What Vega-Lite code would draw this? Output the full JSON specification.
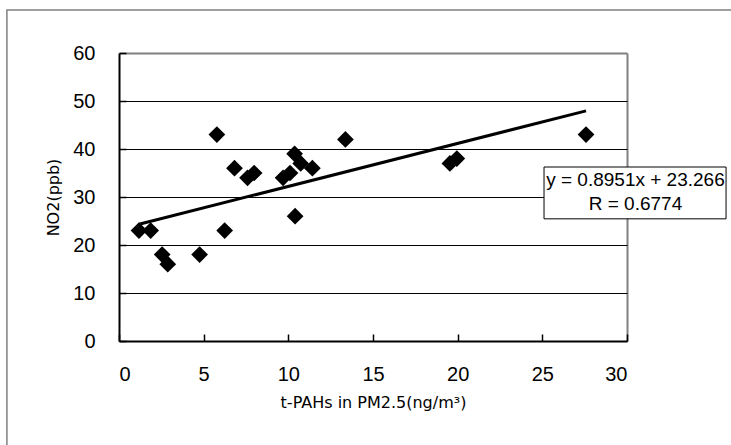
{
  "$schema": "https://vega.github.io/schema/vega-lite/v6.json",
  "width": 508,
  "height": 288,
  "autosize": {"type": "none"},
  "padding": {"left": 119, "top": 53, "right": 104, "bottom": 104},
  "background": "white",
  "config": {
    "view": {"stroke": null},
    "axis": {
      "labelFont": "Liberation Sans",
      "labelFontSize": 20,
      "labelColor": "black",
      "titleFont": "DejaVu Sans",
      "titleFontSize": 16,
      "titleFontWeight": "normal",
      "titleColor": "black",
      "domainColor": "black",
      "domainWidth": 2,
      "tickColor": "black",
      "tickWidth": 1.5,
      "tickSize": -7
    }
  },
  "datasets": {
    "points": [
      {"x": 1.18, "y": 23}, {"x": 1.87, "y": 23}, {"x": 2.55, "y": 18}, {"x": 2.88, "y": 16},
      {"x": 4.76, "y": 18}, {"x": 5.78, "y": 43}, {"x": 6.24, "y": 23}, {"x": 6.82, "y": 36},
      {"x": 7.59, "y": 34}, {"x": 7.98, "y": 35}, {"x": 9.69, "y": 34}, {"x": 10.1, "y": 35},
      {"x": 10.37, "y": 39}, {"x": 10.4, "y": 26}, {"x": 10.73, "y": 37}, {"x": 11.42, "y": 36},
      {"x": 13.37, "y": 42}, {"x": 19.54, "y": 37}, {"x": 19.95, "y": 38}, {"x": 27.58, "y": 43}
    ],
    "trend": [{"x": 1.18, "y": 24.32}, {"x": 27.58, "y": 47.95}],
    "frame": [{"x": -6.62, "x2": 45, "y": -40, "y2": 68.96}],
    "box": [{"x": 25.1, "x2": 35.85, "y": 25.45, "y2": 36.25}],
    "labels": [
      {"x": 30.5, "y": 33.5, "text": "y = 0.8951x + 23.266"},
      {"x": 30.5, "y": 28.5, "text": "R = 0.6774"}
    ]
  },
  "layer": [
    {
      "data": {"name": "points"},
      "mark": {"type": "point", "shape": "diamond", "filled": true, "color": "black", "size": 280, "opacity": 1},
      "encoding": {
        "x": {
          "field": "x", "type": "quantitative",
          "scale": {"domain": [0, 30], "nice": false, "zero": false},
          "axis": {
            "title": "t-PAHs in PM2.5(ng/m³)",
            "values": [0, 5, 10, 15, 20, 25, 30],
            "labelPadding": 30,
            "titlePadding": 10,
            "grid": true,
            "gridColor": {"condition": {"test": "datum.value === 30", "value": "#808080"}, "value": "transparent"},
            "gridWidth": 2
          }
        },
        "y": {
          "field": "y", "type": "quantitative",
          "scale": {"domain": [0, 60], "nice": false, "zero": false},
          "axis": {
            "title": "NO2(ppb)",
            "values": [0, 10, 20, 30, 40, 50, 60],
            "labelPadding": 31,
            "titlePadding": 11,
            "grid": true,
            "gridColor": {"condition": {"test": "datum.value === 60", "value": "#808080"}, "value": "black"},
            "gridWidth": {"condition": {"test": "datum.value === 60", "value": 2}, "value": 1}
          }
        }
      }
    },
    {
      "data": {"name": "frame"},
      "mark": {"type": "rect", "fill": null, "stroke": "#808080", "strokeWidth": 1.5, "clip": false},
      "encoding": {
        "x": {"field": "x", "type": "quantitative", "scale": {"domain": [0, 30], "nice": false, "zero": false}},
        "x2": {"field": "x2"},
        "y": {"field": "y", "type": "quantitative", "scale": {"domain": [0, 60], "nice": false, "zero": false}},
        "y2": {"field": "y2"}
      }
    },
    {
      "data": {"name": "trend"},
      "mark": {"type": "line", "color": "black", "strokeWidth": 3},
      "encoding": {
        "x": {"field": "x", "type": "quantitative", "scale": {"domain": [0, 30], "nice": false, "zero": false}},
        "y": {"field": "y", "type": "quantitative", "scale": {"domain": [0, 60], "nice": false, "zero": false}}
      }
    },
    {
      "data": {"name": "box"},
      "mark": {"type": "rect", "fill": "white", "stroke": "black", "strokeWidth": 1, "clip": false},
      "encoding": {
        "x": {"field": "x", "type": "quantitative", "scale": {"domain": [0, 30], "nice": false, "zero": false}},
        "x2": {"field": "x2"},
        "y": {"field": "y", "type": "quantitative", "scale": {"domain": [0, 60], "nice": false, "zero": false}},
        "y2": {"field": "y2"}
      }
    },
    {
      "data": {"name": "labels"},
      "mark": {"type": "text", "font": "Liberation Sans", "fontSize": 19, "color": "black", "align": "center", "baseline": "middle", "clip": false},
      "encoding": {
        "x": {"field": "x", "type": "quantitative", "scale": {"domain": [0, 30], "nice": false, "zero": false}},
        "y": {"field": "y", "type": "quantitative", "scale": {"domain": [0, 60], "nice": false, "zero": false}},
        "text": {"field": "text"}
      }
    }
  ]
}
